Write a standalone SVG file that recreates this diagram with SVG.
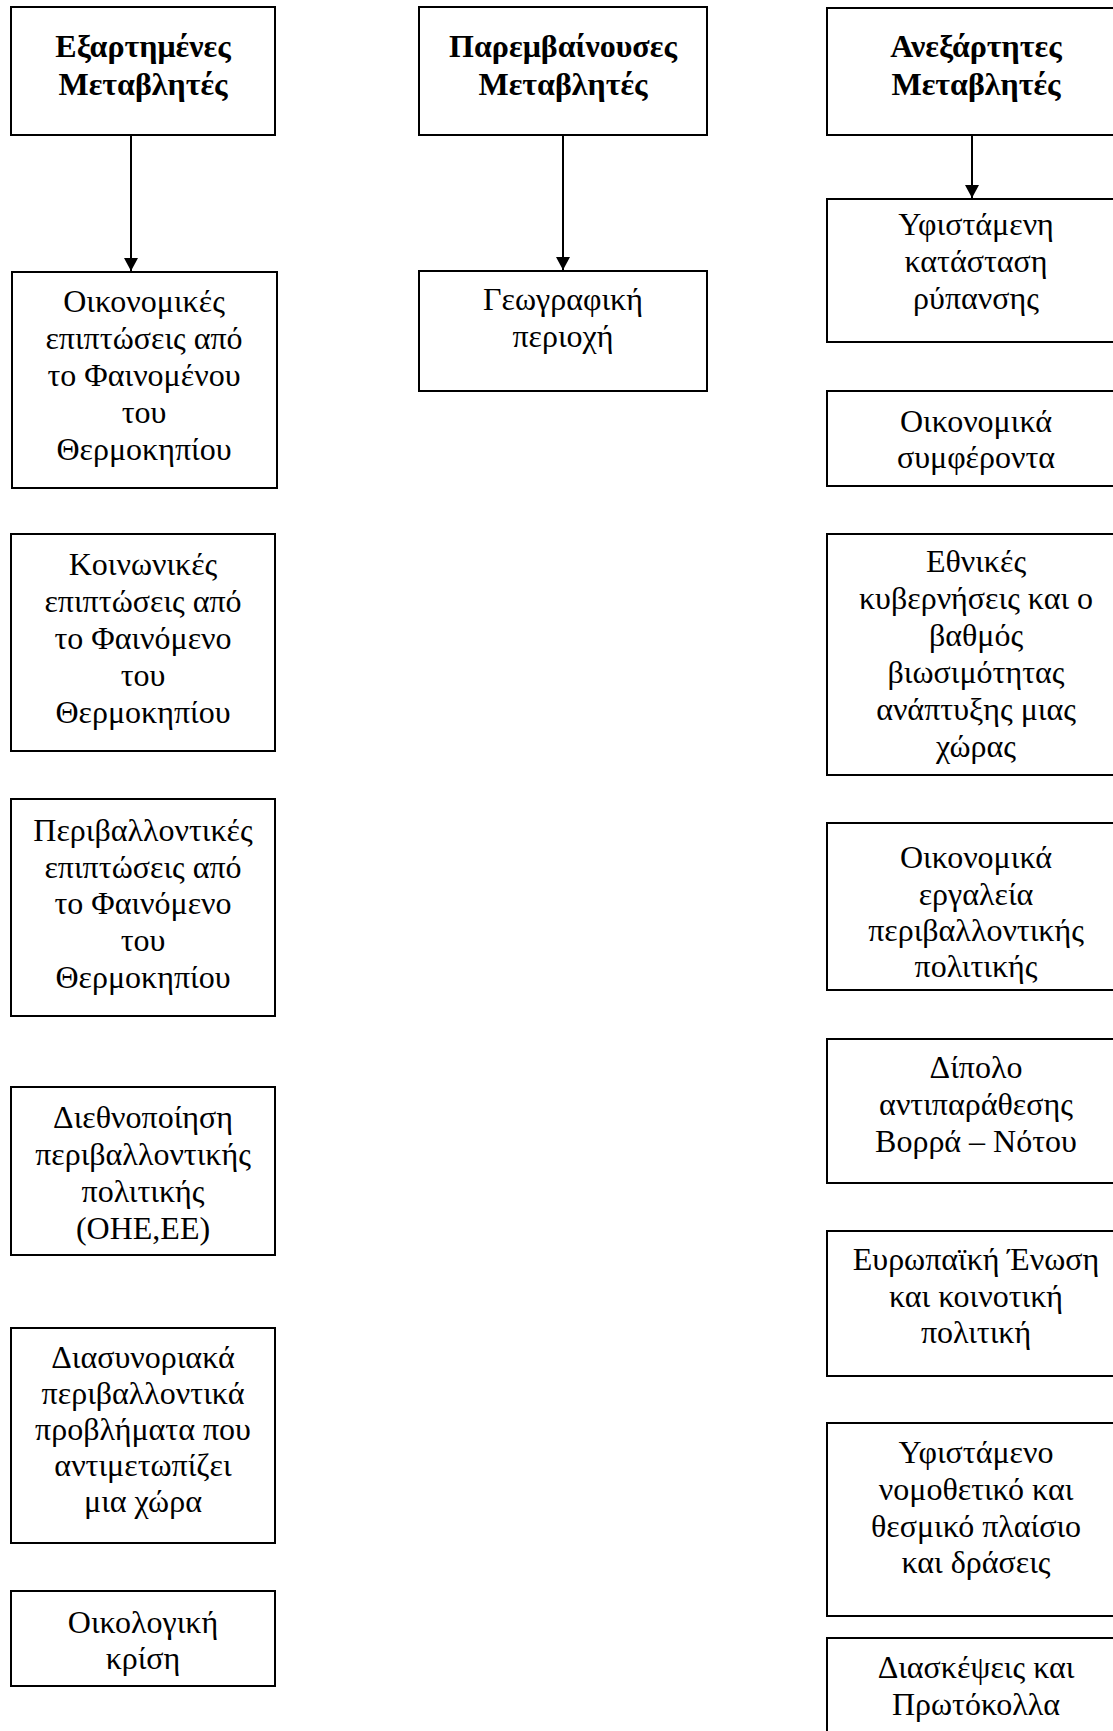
<svg xmlns="http://www.w3.org/2000/svg" width="1113" height="1731" viewBox="0 0 1113 1731">
<style>
.box{fill:#fff;stroke:#000;stroke-width:2}
.t{font-family:"Liberation Serif","Times New Roman",serif;font-size:32px;fill:#000;text-anchor:middle}
.h{font-weight:bold}
.c{stroke:#000;stroke-width:2;fill:none}
</style>
<defs>
<marker id="arr" markerWidth="14" markerHeight="14" refX="13" refY="7" orient="auto" markerUnits="userSpaceOnUse">
<path d="M0,0 L13,7 L0,14 Z" fill="#000"/>
</marker>
</defs>
<rect width="1113" height="1731" fill="#fff"/>

<g id="connectors">
<line class="c" x1="131" y1="135" x2="131" y2="271" marker-end="url(#arr)"/>
<line class="c" x1="563" y1="135" x2="563" y2="270" marker-end="url(#arr)"/>
<line class="c" x1="972" y1="135" x2="972" y2="198" marker-end="url(#arr)"/>
</g>

<g id="h-dependent">
<rect class="box" x="11" y="7" width="264" height="128"/>
<text class="t h" x="143" y="57">Εξαρτημένες</text>
<text class="t h" x="143" y="95">Μεταβλητές</text>
</g>
<g id="h-intervening">
<rect class="box" x="419" y="7" width="288" height="128"/>
<text class="t h" x="563" y="57">Παρεμβαίνουσες</text>
<text class="t h" x="563" y="95">Μεταβλητές</text>
</g>
<g id="h-independent">
<rect class="box" x="827" y="8" width="298" height="127"/>
<text class="t h" x="976" y="57">Ανεξάρτητες</text>
<text class="t h" x="976" y="95">Μεταβλητές</text>
</g>

<g id="l1">
<rect class="box" x="12" y="272" width="265" height="216"/>
<text class="t" x="144" y="312">Οικονομικές</text>
<text class="t" x="144" y="349">επιπτώσεις από</text>
<text class="t" x="144" y="386">το Φαινομένου</text>
<text class="t" x="144" y="423">του</text>
<text class="t" x="144" y="460">Θερμοκηπίου</text>
</g>
<g id="l2">
<rect class="box" x="11" y="534" width="264" height="217"/>
<text class="t" x="143" y="575">Κοινωνικές</text>
<text class="t" x="143" y="612">επιπτώσεις από</text>
<text class="t" x="143" y="649">το Φαινόμενο</text>
<text class="t" x="143" y="686">του</text>
<text class="t" x="143" y="723">Θερμοκηπίου</text>
</g>
<g id="l3">
<rect class="box" x="11" y="799" width="264" height="217"/>
<text class="t" x="143" y="841">Περιβαλλοντικές</text>
<text class="t" x="143" y="878">επιπτώσεις από</text>
<text class="t" x="143" y="914">το Φαινόμενο</text>
<text class="t" x="143" y="951">του</text>
<text class="t" x="143" y="988">Θερμοκηπίου</text>
</g>
<g id="l4">
<rect class="box" x="11" y="1087" width="264" height="168"/>
<text class="t" x="143" y="1128">Διεθνοποίηση</text>
<text class="t" x="143" y="1165">περιβαλλοντικής</text>
<text class="t" x="143" y="1202">πολιτικής</text>
<text class="t" x="143" y="1239">(ΟΗΕ,ΕΕ)</text>
</g>
<g id="l5">
<rect class="box" x="11" y="1328" width="264" height="215"/>
<text class="t" x="143" y="1368">Διασυνοριακά</text>
<text class="t" x="143" y="1404">περιβαλλοντικά</text>
<text class="t" x="143" y="1440">προβλήματα που</text>
<text class="t" x="143" y="1476">αντιμετωπίζει</text>
<text class="t" x="143" y="1512">μια χώρα</text>
</g>
<g id="l6">
<rect class="box" x="11" y="1591" width="264" height="95"/>
<text class="t" x="143" y="1633">Οικολογική</text>
<text class="t" x="143" y="1669">κρίση</text>
</g>

<g id="m1">
<rect class="box" x="419" y="271" width="288" height="120"/>
<text class="t" x="563" y="310">Γεωγραφική</text>
<text class="t" x="563" y="347">περιοχή</text>
</g>

<g id="r1">
<rect class="box" x="827" y="199" width="298" height="143"/>
<text class="t" x="976" y="235">Υφιστάμενη</text>
<text class="t" x="976" y="272">κατάσταση</text>
<text class="t" x="976" y="309">ρύπανσης</text>
</g>
<g id="r2">
<rect class="box" x="827" y="391" width="298" height="95"/>
<text class="t" x="976" y="432">Οικονομικά</text>
<text class="t" x="976" y="468">συμφέροντα</text>
</g>
<g id="r3">
<rect class="box" x="827" y="534" width="298" height="241"/>
<text class="t" x="976" y="572">Εθνικές</text>
<text class="t" x="976" y="609">κυβερνήσεις και ο</text>
<text class="t" x="976" y="646">βαθμός</text>
<text class="t" x="976" y="683">βιωσιμότητας</text>
<text class="t" x="976" y="720">ανάπτυξης μιας</text>
<text class="t" x="976" y="757">χώρας</text>
</g>
<g id="r4">
<rect class="box" x="827" y="823" width="298" height="167"/>
<text class="t" x="976" y="868">Οικονομικά</text>
<text class="t" x="976" y="905">εργαλεία</text>
<text class="t" x="976" y="941">περιβαλλοντικής</text>
<text class="t" x="976" y="977">πολιτικής</text>
</g>
<g id="r5">
<rect class="box" x="827" y="1039" width="298" height="144"/>
<text class="t" x="976" y="1078">Δίπολο</text>
<text class="t" x="976" y="1115">αντιπαράθεσης</text>
<text class="t" x="976" y="1152">Βορρά – Νότου</text>
</g>
<g id="r6">
<rect class="box" x="827" y="1231" width="298" height="145"/>
<text class="t" x="976" y="1270">Ευρωπαϊκή Ένωση</text>
<text class="t" x="976" y="1307">και κοινοτική</text>
<text class="t" x="976" y="1343">πολιτική</text>
</g>
<g id="r7">
<rect class="box" x="827" y="1423" width="298" height="193"/>
<text class="t" x="976" y="1463">Υφιστάμενο</text>
<text class="t" x="976" y="1500">νομοθετικό και</text>
<text class="t" x="976" y="1537">θεσμικό πλαίσιο</text>
<text class="t" x="976" y="1573">και δράσεις</text>
</g>
<g id="r8">
<rect class="box" x="827" y="1638" width="298" height="120"/>
<text class="t" x="976" y="1678">Διασκέψεις και</text>
<text class="t" x="976" y="1715">Πρωτόκολλα</text>
</g>
</svg>
